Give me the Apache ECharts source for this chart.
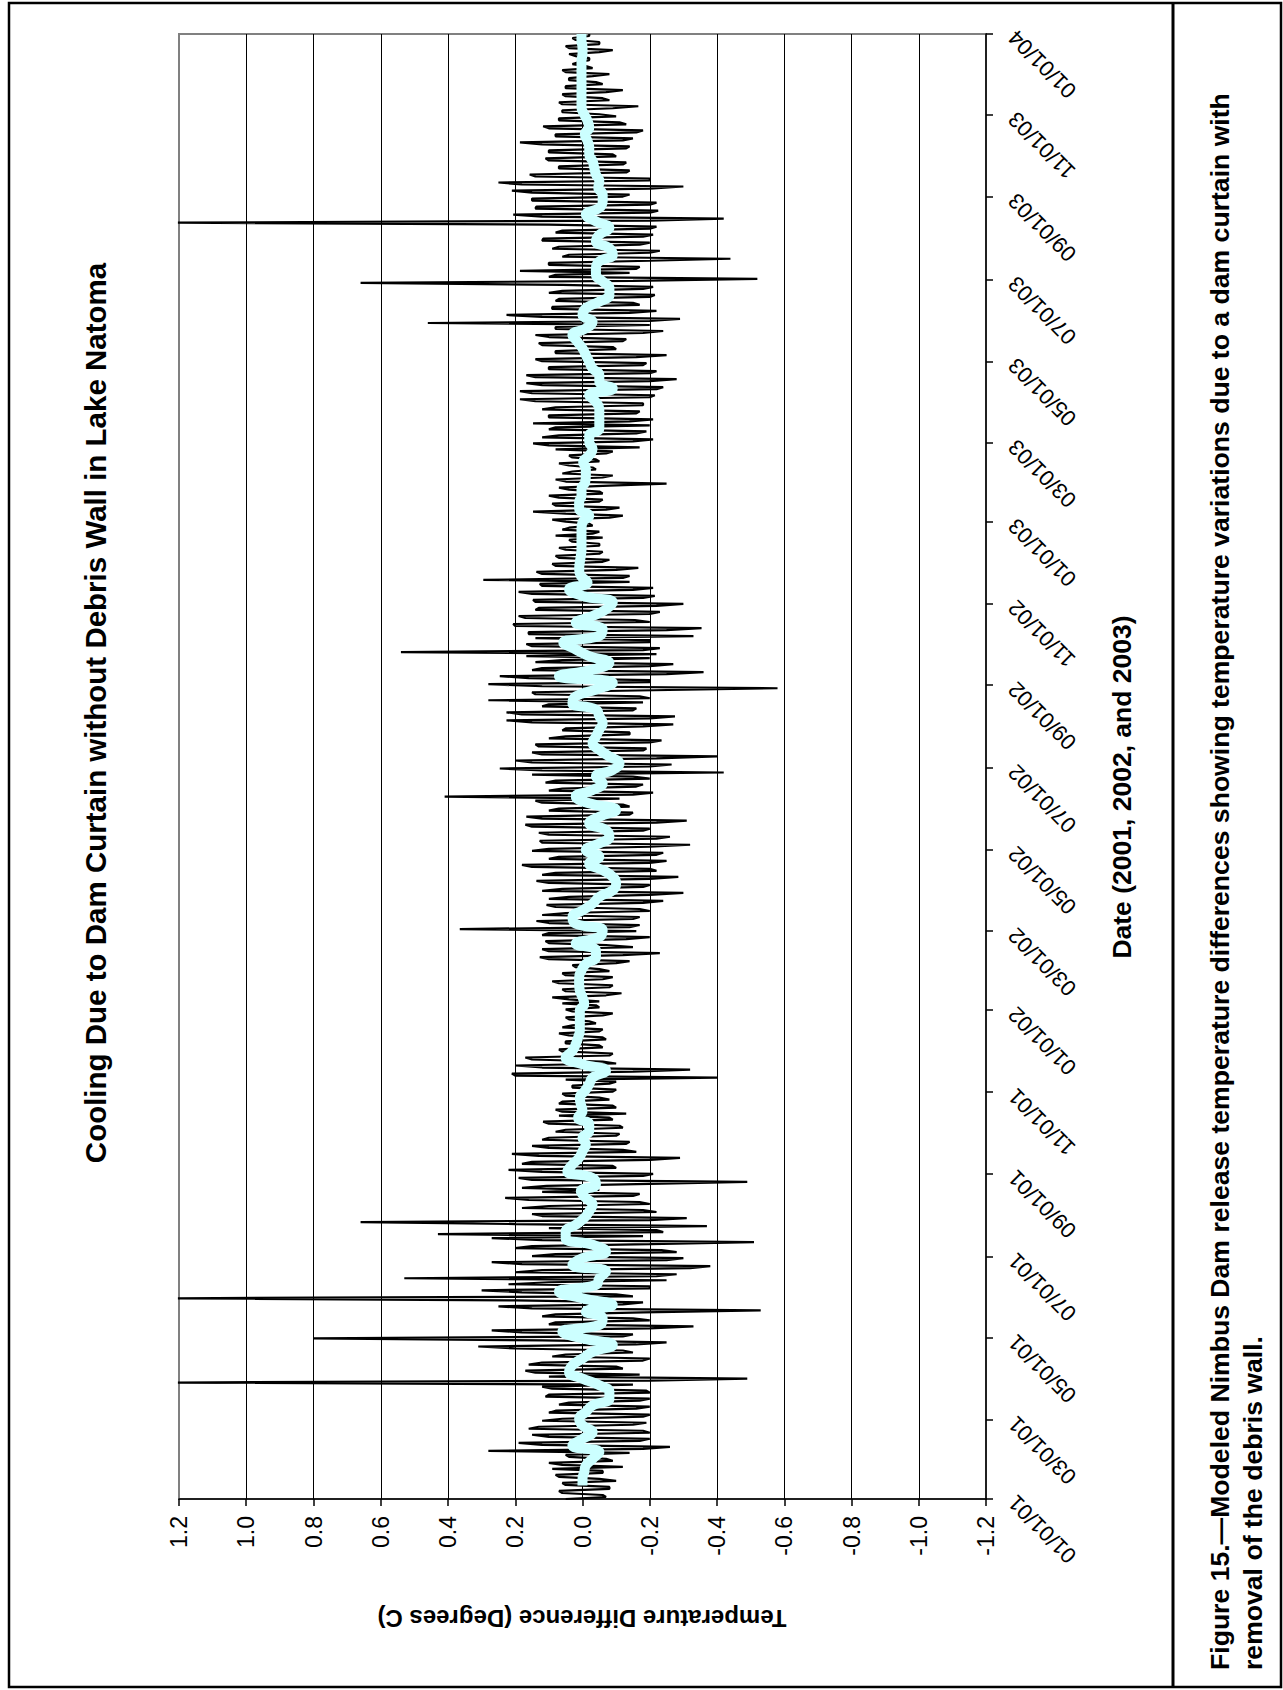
<!DOCTYPE html>
<html>
<head>
<meta charset="utf-8">
<script src="https://cdn.jsdelivr.net/npm/echarts@6/dist/echarts.min.js"></script>
<style>
html,body{margin:0;padding:0;background:#fff;}
body{width:1283px;height:1690px;overflow:hidden;position:relative;}
#wrap{position:absolute;left:0;top:0;width:1690px;height:1283px;transform-origin:0 0;transform:translate(0,1690px) rotate(-90deg);}
</style>
</head>
<body>
<div id="wrap"></div>
<script>
// ---------------- DATA ----------------
const chartTitle = 'Cooling Due to Dam Curtain without Debris Wall in Lake Natoma';
const valueAxisName = 'Temperature Difference (Degrees C)';
const dateAxisName = 'Date (2001, 2002, and 2003)';
const captionLines = [
  'Figure 15.\u2014Modeled Nimbus Dam release temperature differences showing temperature variations due to a dam curtain with',
  'removal of the debris wall.'
];
const startDate = '01/01/01';
const endDate = '01/01/04';
const dateTickLabels = ['01/01/01','03/01/01','05/01/01','07/01/01','09/01/01','11/01/01',
  '01/01/02','03/01/02','05/01/02','07/01/02','09/01/02','11/01/02',
  '01/01/03','03/01/03','05/01/03','07/01/03','09/01/03','11/01/03','01/01/04'];

// temperature difference read every 3 days from 01/01/01 (day 0, 3, 6, ...)
const diffStepDays = 3;
const diff2001 = [0.05,-0.06,0.07,-0.08,0.06,-0.05,0.08,-0.06,-0.12,0.1,-0.07,0.05,0.28,-0.26,0.19,-0.2,0.15,-0.18,0.13,-0.19,
  0.06,-0.2,0.08,-0.2,0.04,-0.2,0.1,-0.19,0.12,1.25,-0.49,-0.17,0.17,-0.1,0.12,-0.2,0.05,-0.12,0.31,-0.25,
  0.8,-0.15,0.27,-0.33,0.08,-0.15,0.08,-0.53,0.25,-0.18,1.25,-0.1,0.3,-0.2,0.1,0.53,-0.28,0.12,-0.38,0.27,
  -0.3,0.08,-0.235,0.15,-0.51,0.27,0.43,-0.22,-0.37,0.66,-0.31,0.15,-0.18,0.1,-0.17,0.23,-0.17,-0.05,0.107,-0.49,
  0.19,-0.21,0.22,-0.09,0.15,-0.29,0.21,-0.12,0.15,-0.14,0.1,-0.11,0.05,-0.11,0.117,-0.08,-0.13,0.08,-0.09,0.06,
  -0.05,0.06,-0.1,0.03,-0.1,-0.4,0.21,-0.32,0.2,-0.06,0.17,-0.09,0.07,-0.05,0.05,-0.06,0.07,-0.06,0.03,-0.02,
  0.05,-0.09];
const diff2002 = [0.05,-0.04,-0.05,0.09,-0.116,0.06,-0.09,0.09,-0.09,0.06,-0.05,0.03,-0.14,0.127,-0.23,0.12,-0.07,0.11,-0.2,0.1,
  0.365,-0.17,0.137,-0.17,0.05,-0.17,0.107,-0.24,0.04,-0.3,0.06,-0.2,0.137,-0.285,0.08,-0.2,0.18,-0.25,0.07,-0.24,
  0.1,-0.32,0.127,-0.26,0.13,-0.2,0.17,-0.31,0.167,-0.15,0.07,-0.12,0.14,0.41,-0.21,0.06,-0.18,0.08,-0.15,-0.42,
  0.246,-0.265,0.2,-0.4,0.15,-0.19,0.14,-0.235,0.05,-0.14,0.05,-0.27,0.226,-0.275,0.226,-0.16,0.1,0.28,-0.17,0.15,
  -0.58,0.28,-0.2,0.246,-0.36,0.12,-0.27,0.06,0.167,0.54,-0.23,0.167,-0.2,-0.33,0.16,-0.354,0.206,-0.156,0.19,-0.23,
  0.13,-0.3,0.147,-0.215,0.19,-0.21,0.127,0.295,-0.14,0.137,-0.166,0.09,-0.08,0.08,-0.06,0.07,-0.05,0.04,0.08,-0.05,
  0.04,-0.02];
const diff2003 = [0.09,-0.12,0.147,-0.11,0.09,-0.06,0.1,-0.05,0.07,-0.25,0.08,-0.09,0.03,-0.03,0.07,-0.04,0.04,-0.09,-0.17,0.147,
  -0.21,0.07,-0.19,0.08,0.147,-0.21,0.1,-0.17,0.08,-0.18,0.186,-0.215,0.186,-0.24,0.167,-0.28,0.167,-0.22,0.1,-0.19,
  0.14,-0.25,0.08,-0.09,0.13,-0.13,0.14,-0.24,0.08,0.46,-0.29,0.226,-0.22,0.09,-0.15,0.07,-0.215,0.06,-0.21,0.66,
  -0.52,0.08,0.186,-0.17,0.1,-0.44,0.04,-0.23,0.07,-0.2,0.117,-0.21,0.06,-0.22,1.25,-0.42,0.206,-0.225,0.137,-0.22,
  0.15,-0.14,0.21,-0.3,0.25,-0.2,0.157,-0.14,0.07,-0.13,0.11,-0.09,0.1,-0.14,0.186,-0.15,0.08,-0.18,0.117,-0.11,
  0.07,-0.05,0.06,-0.166,0.07,-0.06,0.06,-0.12,0.05,-0.04,0.04,-0.08,0.06,-0.01,0.01,-0.02,0.04,-0.09,0.05,-0.05,
  0.03,-0.02];
// opposite-side swing read half-way between those days (day 1.5, 4.5, ...)
const diffOpp2001 = [-0.07,0.06,-0.08,0.05,-0.1,0.07,-0.06,0.09,0.06,-0.09,
  0.04,-0.14,-0.18,0.12,-0.17,0.1,-0.2,0.16,-0.15,0.12,
  -0.18,0.1,-0.16,0.07,-0.17,0.11,-0.2,0.09,-0.15,-0.2,
  0.1,0.14,-0.12,0.16,-0.18,0.09,-0.15,0.2,-0.16,0.12,
  -0.12,0.18,-0.2,0.1,-0.2,0.12,-0.18,0.15,-0.12,0.2,
  -0.15,0.18,-0.2,0.22,-0.25,-0.22,0.2,-0.32,0.18,-0.25,
  0.15,-0.28,0.2,-0.2,0.12,-0.18,-0.24,0.1,0.2,-0.2,
  0.12,-0.22,0.18,-0.2,0.16,-0.15,0.12,0.18,-0.2,0.15,
  -0.18,0.12,-0.1,0.18,-0.2,0.13,-0.16,0.1,-0.13,0.12,
  -0.1,0.08,-0.12,0.1,-0.09,0.07,0.06,-0.1,0.07,-0.08,
  0.05,-0.09,0.03,-0.08,0.05,0.2,-0.15,0.12,-0.1,0.15,
  -0.08,0.06,-0.06,0.05,-0.07,0.04,-0.05,0.06,-0.04,0.04,
  -0.06,0.03];
const diffOpp2002 = [-0.05,0.06,0.04,-0.07,0.05,-0.08,0.07,-0.06,0.05,-0.08,
  0.02,-0.1,0.1,-0.12,0.1,-0.15,0.1,-0.13,0.12,-0.16,
  -0.14,0.1,-0.15,0.12,-0.2,0.08,-0.18,0.1,-0.2,0.12,
  -0.18,0.1,-0.2,0.12,-0.22,0.15,-0.2,0.1,-0.22,0.15,
  -0.2,0.12,-0.22,0.1,-0.18,0.15,-0.22,0.12,-0.14,0.1,
  -0.14,0.12,-0.11,-0.15,0.1,-0.16,0.11,-0.2,0.15,0.12,
  -0.2,0.15,-0.22,0.12,-0.18,0.13,-0.2,0.1,-0.14,0.06,
  -0.18,0.15,-0.2,0.18,-0.15,0.12,-0.18,-0.2,0.14,-0.21,
  0.12,-0.2,0.16,-0.25,0.15,-0.2,0.14,-0.2,-0.22,-0.18,
  0.15,-0.2,0.14,0.16,-0.25,0.2,-0.2,0.17,-0.2,0.14,
  -0.22,0.14,-0.18,0.15,-0.15,0.12,-0.14,-0.12,0.12,-0.1,
  0.08,-0.06,0.07,-0.05,0.05,-0.05,0.03,-0.06,-0.03,0.06,
  -0.03,0.05];
const diffOpp2003 = [-0.08,0.05,-0.07,0.08,-0.05,0.07,-0.06,0.04,-0.08,0.05,
  -0.06,0.06,-0.04,0.04,-0.05,0.03,-0.07,0.08,0.1,-0.15,
  0.12,-0.16,0.1,-0.2,-0.14,0.1,-0.16,0.12,-0.18,0.14,
  -0.2,0.15,-0.22,0.12,-0.2,0.14,-0.2,0.1,-0.18,0.12,
  -0.16,0.08,-0.1,0.12,-0.12,0.1,-0.18,0.08,-0.2,-0.2,
  0.12,-0.14,0.09,-0.17,0.08,-0.2,0.1,-0.18,0.06,-0.15,
  0.1,-0.14,-0.16,0.1,-0.2,0.06,-0.2,0.09,-0.17,0.12,
  -0.18,0.08,-0.2,0.1,-0.2,0.12,-0.2,0.14,-0.2,0.15,
  -0.12,0.15,-0.2,0.18,-0.2,0.14,-0.13,0.07,-0.12,0.1,
  -0.1,0.1,-0.13,0.12,-0.12,0.08,-0.16,0.1,-0.13,0.07,
  -0.1,0.06,-0.09,0.06,-0.08,0.05,-0.07,0.05,-0.06,0.04,
  -0.03,0.05,-0.03,0.03,-0.02,0.02,-0.05,0.04,-0.05,0.02,-0.02];

// smoothed (light cyan) curve, read every 5 days starting on day 10
const smoothStartDay = 10;
const smoothStepDays = 5;
const smooth2001 = [0.0,0.0,-0.005,-0.01,-0.03,-0.05,0.03,0.0,-0.03,0.0,0.01,-0.01,-0.03,-0.08,-0.08,-0.05,0.0,0.04,0.03,0.0,
  -0.03,-0.09,0.0,0.06,-0.05,-0.06,-0.01,-0.09,0.0,0.07,-0.04,-0.05,-0.07,0.03,0.0,-0.07,-0.03,0.05,0.05,0.02,
  -0.005,-0.02,-0.03,-0.01,0.005,-0.04,-0.03,0.045,0.03,0.01,0.0,-0.01,0.0,-0.02,-0.02,0.013,0.0,0.005,0.008,-0.007,
  -0.02,-0.03,-0.07,0.0,0.05,0.03,0.02,0.013,0.008,0.008,0.008,0.008];
const smooth2002 = [-0.005,0.0,0.008,0.01,0.01,0.003,-0.01,-0.04,-0.04,0.02,-0.05,-0.06,0.02,0.03,0.0,-0.03,-0.05,-0.09,-0.1,-0.09,
  -0.06,-0.02,-0.05,-0.01,-0.05,-0.08,-0.07,-0.02,-0.05,-0.1,-0.02,0.02,-0.03,-0.06,-0.04,-0.09,-0.11,-0.08,-0.05,-0.03,
  -0.04,-0.05,-0.06,-0.05,-0.04,0.03,0.02,-0.04,-0.09,0.07,-0.03,-0.08,-0.02,0.02,0.057,-0.05,-0.06,0.02,-0.03,-0.07,
  -0.09,0.0,0.04,-0.015,0.005,0.01,0.008,0.005,0.003,0.003,0.003,0.003,0.0];
const smooth2003 = [-0.02,0.01,0.01,0.003,0.003,-0.008,-0.01,-0.01,-0.002,-0.02,-0.03,-0.02,-0.02,-0.05,-0.05,-0.05,-0.05,-0.04,-0.02,-0.09,
  -0.05,-0.05,-0.03,-0.02,-0.01,0.0,0.015,0.03,-0.01,-0.03,0.0,-0.01,-0.05,-0.08,-0.08,-0.06,-0.04,-0.04,-0.05,-0.09,
  -0.08,-0.04,-0.05,-0.08,-0.04,-0.01,-0.05,-0.06,-0.06,-0.047,-0.05,-0.04,-0.035,-0.03,-0.02,-0.02,-0.015,-0.007,-0.02,-0.015,
  -0.005,0.003,0.003,0.003,0.003,0.003,0.003,0.003,0.003,0.0,0.0,0.003,0.003];

// ---------------- BUILD ----------------
const DAY = 86400000;
function parseMDY(s){const p=s.split('/');return Date.UTC(2000+(+p[2]),(+p[0])-1,+p[1]);}
const T0 = parseMDY(startDate);
function dayOf(s){return Math.round((parseMDY(s)-T0)/DAY);}
const lastDay = dayOf(endDate);
const tickDays = dateTickLabels.map(dayOf);
const labelByDay = {};
dateTickLabels.forEach((s,i)=>{labelByDay[tickDays[i]]=s;});

const diffAll = diff2001.concat(diff2002, diff2003);
const oppAll = diffOpp2001.concat(diffOpp2002, diffOpp2003);
const diffData = [];
diffAll.forEach((v,i)=>{
  diffData.push([i*diffStepDays, v]);
  if (i < oppAll.length) diffData.push([i*diffStepDays + diffStepDays/2, oppAll[i]]);
});
const smoothAll = smooth2001.concat(smooth2002, smooth2003);
const smoothData = smoothAll.map((v,j)=>[smoothStartDay + j*smoothStepDays, v]);

const FONT = '"Liberation Sans", Arial, Helvetica, sans-serif';
const chart = echarts.init(document.getElementById('wrap'), null, {renderer:'svg', width:1690, height:1283});

chart.setOption({
  animation:false,
  backgroundColor:'#fff',
  grid:{left:191,right:34,top:179,bottom:297,show:true,borderColor:'#808080',borderWidth:2,backgroundColor:'rgba(0,0,0,0)',containLabel:false},
  xAxis:{
    type:'value', min:0, max:lastDay, position:'bottom',
    axisLine:{show:true,onZero:false,lineStyle:{color:'#000',width:1.5}},
    axisTick:{show:true,customValues:tickDays,length:7,inside:false,lineStyle:{color:'#000',width:1.5}},
    axisLabel:{show:true,customValues:tickDays,rotate:45,margin:26,fontSize:22,color:'#000',fontFamily:FONT,
      formatter:function(v){return labelByDay[Math.round(v)]||'';}},
    splitLine:{show:false}
  },
  yAxis:{
    type:'value', min:-1.2, max:1.2, interval:0.2,
    axisLine:{show:true,onZero:false,lineStyle:{color:'#000',width:1.5}},
    axisTick:{show:true,length:7,inside:false,lineStyle:{color:'#000',width:1.5}},
    axisLabel:{fontSize:23,color:'#000',fontFamily:FONT,margin:17,
      formatter:function(v){return (Math.abs(v)<1e-9?0:v).toFixed(1);}},
    splitLine:{show:true,showMinLine:false,showMaxLine:false,lineStyle:{color:'#000',width:1}}
  },
  series:[
    {type:'line',data:diffData,symbol:'none',showSymbol:false,lineStyle:{color:'#000',width:2.2},z:2,silent:true,clip:true},
    {type:'line',data:smoothData,symbol:'none',showSymbol:false,smooth:0.5,lineStyle:{color:'#CCFFFF',width:10},z:3,silent:true,clip:true}
  ],
  graphic:[
    {type:'rect',silent:true,z:100,shape:{x:3,y:9,width:1684,height:1272},style:{fill:'none',stroke:'#000',lineWidth:2.5}},
    {type:'line',silent:true,z:100,shape:{x1:3,y1:1173,x2:1687,y2:1173},style:{stroke:'#000',lineWidth:3}},
    {type:'text',silent:true,z:100,x:977,y:95,style:{text:chartTitle,fontSize:29.5,fontWeight:'bold',fontFamily:FONT,fill:'#000',align:'center',verticalAlign:'middle'}},
    {type:'text',silent:true,z:100,x:72,y:582,rotation:Math.PI/2,style:{text:valueAxisName,fontSize:24,fontWeight:'bold',fontFamily:FONT,fill:'#000',align:'center',verticalAlign:'middle'}},
    {type:'text',silent:true,z:100,x:903,y:1122,style:{text:dateAxisName,fontSize:26.5,fontWeight:'bold',fontFamily:FONT,fill:'#000',align:'center',verticalAlign:'middle'}},
    {type:'text',silent:true,z:100,x:20,y:1220,style:{text:captionLines[0],fontSize:26.6,fontWeight:'bold',fontFamily:FONT,fill:'#000',align:'left',verticalAlign:'middle'}},
    {type:'text',silent:true,z:100,x:20,y:1253,style:{text:captionLines[1],fontSize:26.6,fontWeight:'bold',fontFamily:FONT,fill:'#000',align:'left',verticalAlign:'middle'}}
  ]
});
</script>
</body>
</html>
